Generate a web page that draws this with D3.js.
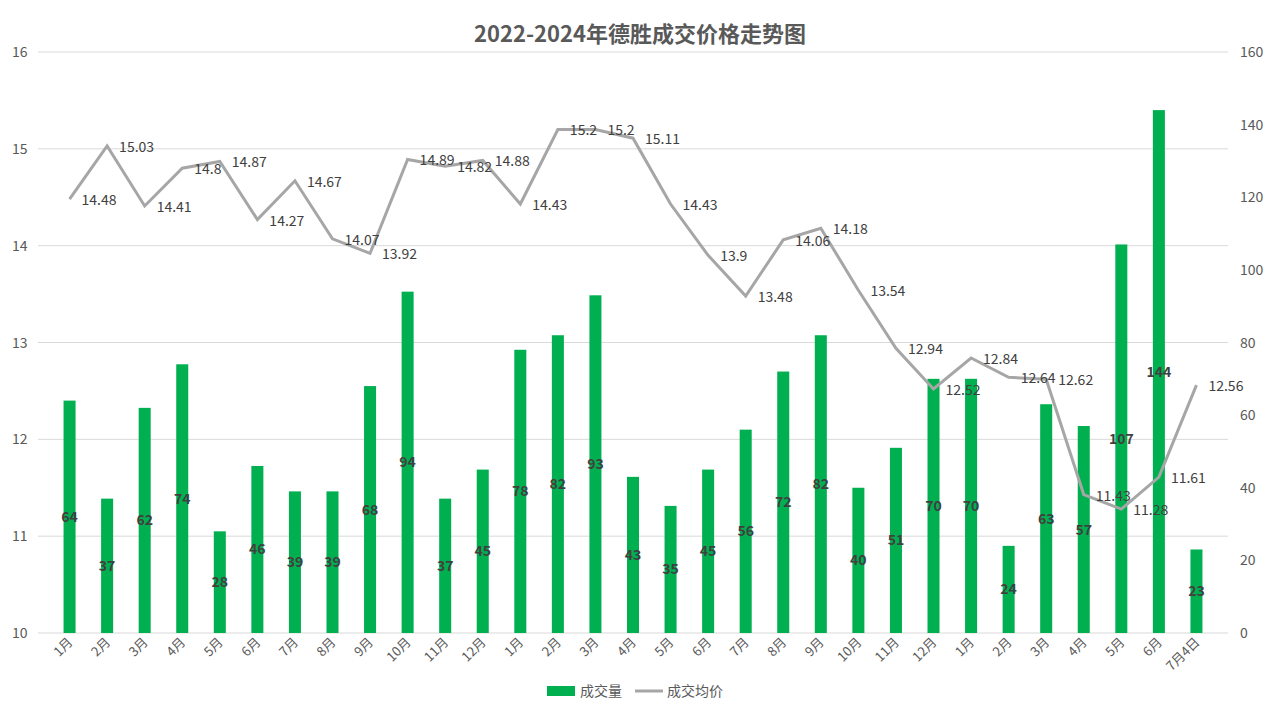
<!DOCTYPE html><html><head><meta charset="utf-8"><script src="https://d3js.org/d3.v7.min.js"></script>
<style>body{margin:0;background:#fff}text{font-family:"Noto Sans CJK SC","Noto Sans",sans-serif}</style></head><body><svg id="c" width="1280" height="715"></svg>
<script>
const categories=["1月","2月","3月","4月","5月","6月","7月","8月","9月","10月","11月","12月","1月","2月","3月","4月","5月","6月","7月","8月","9月","10月","11月","12月","1月","2月","3月","4月","5月","6月","7月4日"];
const volume=[64,37,62,74,28,46,39,39,68,94,37,45,78,82,93,43,35,45,56,72,82,40,51,70,70,24,63,57,107,144,23];
const price=[14.48,15.03,14.41,14.8,14.87,14.27,14.67,14.07,13.92,14.89,14.82,14.88,14.43,15.2,15.2,15.11,14.43,13.9,13.48,14.06,14.18,13.54,12.94,12.52,12.84,12.64,12.62,11.43,11.28,11.61,12.56];
const leftTicks=[10,11,12,13,14,15,16];
const rightTicks=[0,20,40,60,80,100,120,140,160];
const svg=d3.select("#c");
const L=38,R=1228,T=52,B=633;
const x=d3.scaleBand().domain(d3.range(categories.length)).range([L,R]).padding(0.68);
const cx=i=>x(i)+x.bandwidth()/2;
const yl=d3.scaleLinear().domain([10,16]).range([B,T]);
const yr=d3.scaleLinear().domain([0,160]).range([B,T]);
svg.append("g").selectAll("line").data(leftTicks).join("line").attr("x1",L).attr("x2",R).attr("y1",d=>yl(d)).attr("y2",d=>yl(d)).attr("stroke","#d9d9d9");
svg.append("g").selectAll("text").data(leftTicks).join("text").attr("x",12).attr("y",d=>yl(d)+5).attr("font-size",14).attr("fill","#595959").text(d=>d);
svg.append("g").selectAll("text").data(rightTicks).join("text").attr("x",1240).attr("y",d=>yr(d)+5).attr("font-size",14).attr("fill","#595959").text(d=>d);
svg.append("g").selectAll("rect").data(volume).join("rect").attr("x",(d,i)=>x(i)).attr("width",x.bandwidth()).attr("y",d=>yr(d)).attr("height",d=>B-yr(d)).attr("fill","#00b050");
svg.append("path").datum(price).attr("fill","none").attr("stroke","#a6a6a6").attr("stroke-width",3)
 .attr("d",d3.line().x((d,i)=>cx(i)).y(d=>yl(d)));
svg.append("g").selectAll("text").data(volume).join("text").attr("x",(d,i)=>cx(i)).attr("y",d=>(yr(d)+B)/2+5).attr("text-anchor","middle").attr("font-size",14).attr("font-weight","bold").attr("fill","#404040").text(d=>d);
svg.append("g").selectAll("text").data(price).join("text").attr("x",(d,i)=>cx(i)+12).attr("y",d=>yl(d)+6).attr("font-size",14).attr("fill","#404040").text(d=>d);
svg.append("g").selectAll("text").data(categories).join("text").attr("transform",(d,i)=>`translate(${cx(i)+4},${B+10}) rotate(-45)`).attr("text-anchor","end").attr("font-size",13).attr("fill","#595959").text(d=>d);
svg.append("text").attr("x",640).attr("y",42).attr("text-anchor","middle").attr("font-size",22).attr("font-weight","bold").attr("fill","#595959").text("2022-2024年德胜成交价格走势图");
const lg=svg.append("g");
lg.append("rect").attr("x",547).attr("y",686).attr("width",28).attr("height",10).attr("fill","#00b050");
lg.append("text").attr("x",580).attr("y",696).attr("font-size",14).attr("fill","#595959").text("成交量");
lg.append("line").attr("x1",635).attr("x2",663).attr("y1",691).attr("y2",691).attr("stroke","#a6a6a6").attr("stroke-width",3);
lg.append("text").attr("x",667).attr("y",696).attr("font-size",14).attr("fill","#595959").text("成交均价");
</script></body></html>
